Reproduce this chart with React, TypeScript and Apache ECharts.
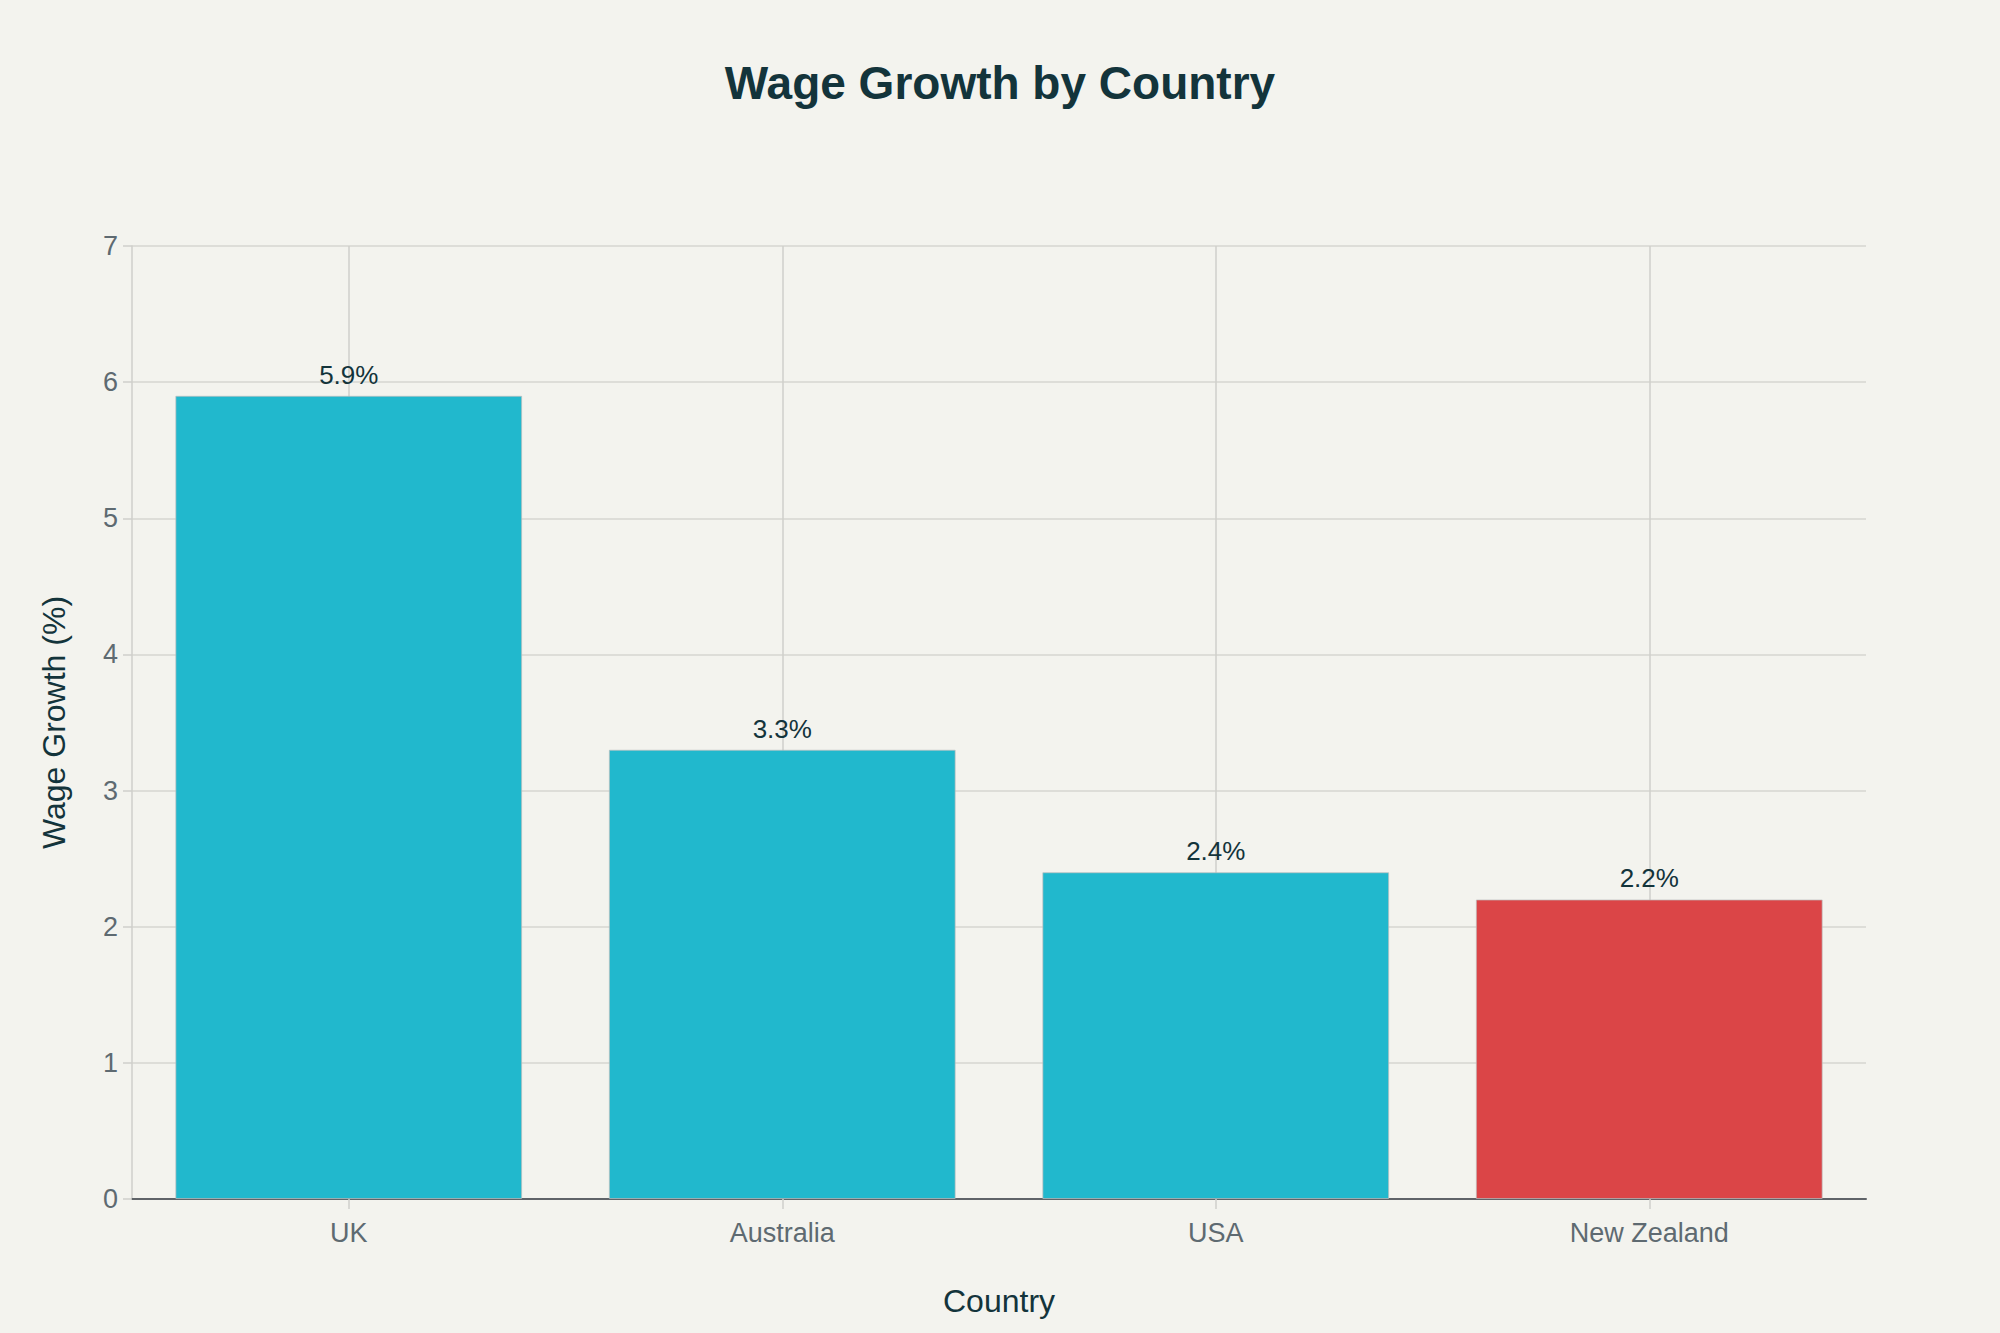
import React, { useEffect, useRef } from "react";
import * as echarts from "echarts";

const categories = ["UK", "Australia", "USA", "New Zealand"];
const values = [5.9, 3.3, 2.4, 2.2];
const barColors = ["#21b8cd", "#21b8cd", "#21b8cd", "#db4547"];
const yTicks = { min: 0, max: 7, interval: 1 };

const FONT = "'Liberation Sans', Arial, sans-serif";

export default function App() {
  const ref = useRef<HTMLDivElement>(null);
  useEffect(() => {
    if (!ref.current) return;
    const chart = echarts.init(ref.current, undefined, { renderer: "svg" });
    chart.setOption({
      animation: false,
      backgroundColor: "#f3f3ee",
      textStyle: { fontFamily: FONT },
      title: {
        text: "Wage Growth by Country",
        left: "center",
        top: 55,
        textStyle: { fontFamily: FONT, fontSize: 46, fontWeight: "bold", color: "#13343b" },
      },
      grid: { left: 132, right: 134, top: 246, bottom: 134, containLabel: false },
      xAxis: {
        type: "category",
        data: categories,
        name: "Country",
        nameLocation: "middle",
        nameGap: 86,
        nameTextStyle: { fontFamily: FONT, fontSize: 32, color: "#13343b" },
        axisLine: { show: true, lineStyle: { color: "#5f6368", width: 2 } },
        axisTick: { show: true, alignWithLabel: true, length: 10, lineStyle: { color: "#cfcfcb", width: 1.5 } },
        axisLabel: { fontFamily: FONT, fontSize: 27, color: "#5e6a71", margin: 20 },
        splitLine: { show: true, alignWithLabel: true, lineStyle: { color: "#cfcfcb", width: 1.5 } },
      },
      yAxis: {
        type: "value",
        min: yTicks.min,
        max: yTicks.max,
        interval: yTicks.interval,
        name: "Wage Growth (%)",
        nameLocation: "middle",
        nameGap: 62,
        nameTextStyle: { fontFamily: FONT, fontSize: 32, color: "#13343b" },
        axisLine: { show: true, lineStyle: { color: "#cfcfcb", width: 1.5 } },
        axisTick: { show: true, length: 9, lineStyle: { color: "#cfcfcb", width: 1.5 } },
        axisLabel: { fontFamily: FONT, fontSize: 27, color: "#5e6a71", margin: 14 },
        splitLine: { show: true, lineStyle: { color: "#d6d6d1", width: 1.5 } },
      },
      series: [
        {
          type: "bar",
          barCategoryGap: "20%",
          data: values.map((v, i) => ({
            value: v,
            itemStyle: { color: barColors[i], borderColor: "rgba(190,190,190,0.7)", borderWidth: 1 },
          })),
          label: {
            show: true,
            position: "top",
            distance: 8,
            fontFamily: FONT,
            fontSize: 26,
            color: "#13343b",
            formatter: (p: any) => `${p.value.toFixed(1)}%`,
          },
        },
      ],
    });
    return () => chart.dispose();
  }, []);
  return (
    <div
      ref={ref}
      style={{ position: "absolute", left: 0, top: 0, width: 2000, height: 1333 }}
    />
  );
}
